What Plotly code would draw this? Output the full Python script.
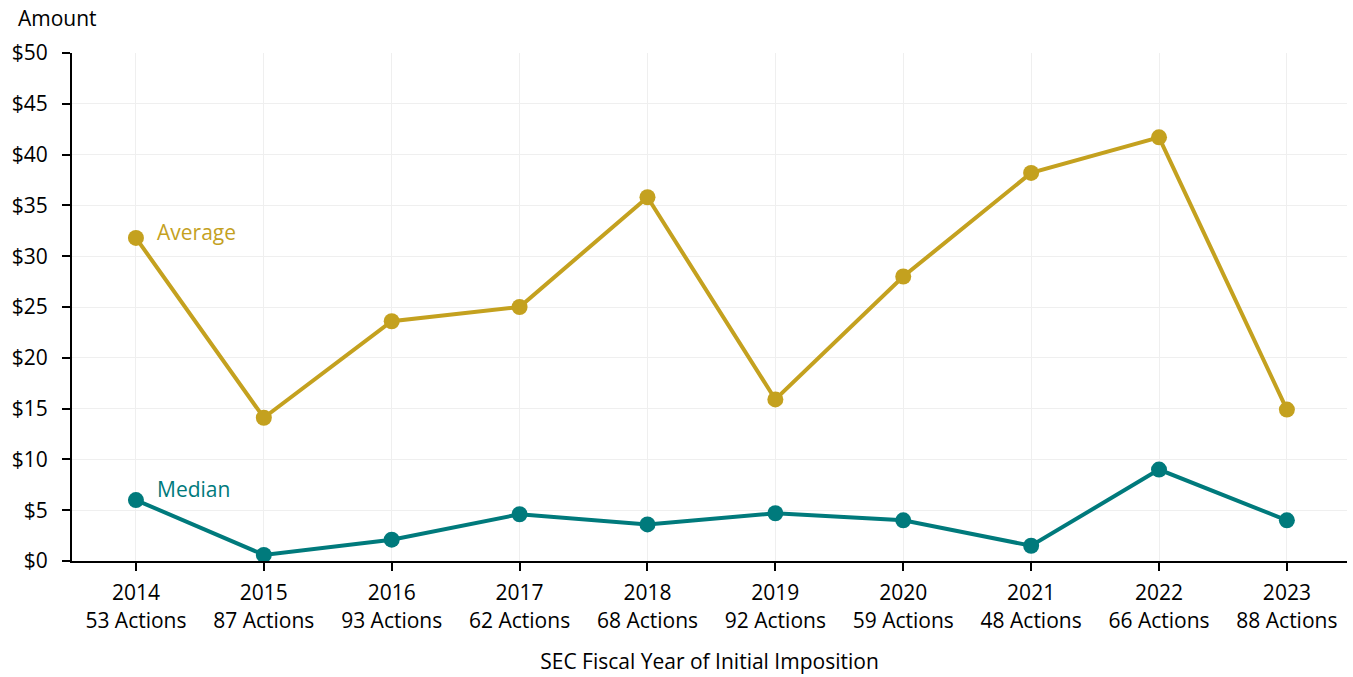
import plotly.graph_objects as go

years = ["2014", "2015", "2016", "2017", "2018", "2019", "2020", "2021", "2022", "2023"]
actions = [53, 87, 93, 62, 68, 92, 59, 48, 66, 88]
average = [31.8, 14.1, 23.6, 25.0, 35.8, 15.9, 28.0, 38.2, 41.7, 14.9]
median = [6.0, 0.6, 2.1, 4.6, 3.6, 4.7, 4.0, 1.5, 9.0, 4.0]
y_ticks = [0, 5, 10, 15, 20, 25, 30, 35, 40, 45, 50]

GOLD = "#C4A11F"
TEAL = "#007A7C"
FONT = "Open Sans"
FS = 21

x_idx = list(range(len(years)))
tick_text = [f"{y}<br>{a} Actions" for y, a in zip(years, actions)]

fig = go.Figure()
fig.add_trace(go.Scatter(x=x_idx, y=average, mode="lines+markers",
                         line=dict(color=GOLD, width=4),
                         marker=dict(color=GOLD, size=16), name="Average"))
fig.add_trace(go.Scatter(x=x_idx, y=median, mode="lines+markers",
                         line=dict(color=TEAL, width=4),
                         marker=dict(color=TEAL, size=16), name="Median"))

fig.add_annotation(x=0, y=average[0], xref="x", yref="y", text="Average",
                   showarrow=False, xanchor="left", xshift=19, yshift=6,
                   font=dict(family=FONT, size=FS, color=GOLD))
fig.add_annotation(x=0, y=median[0], xref="x", yref="y", text="Median",
                   showarrow=False, xanchor="left", xshift=19, yshift=11,
                   font=dict(family=FONT, size=FS, color=TEAL))
fig.add_annotation(x=0, y=1, xref="paper", yref="paper", text="Amount",
                   showarrow=False, xanchor="left", yanchor="middle",
                   xshift=-56, yshift=35,
                   font=dict(family=FONT, size=FS, color="#000"))

fig.update_layout(
    width=1353, height=677,
    margin=dict(l=72, r=6, t=53, b=116, autoexpand=False),
    plot_bgcolor="white", paper_bgcolor="white",
    showlegend=False,
    font=dict(family=FONT, size=FS, color="#000"),
    xaxis=dict(range=[-0.5, 9.47], tickmode="array", tickvals=x_idx, ticktext=tick_text,
               showgrid=True, gridcolor="#EFEFEF", gridwidth=1,
               showline=True, linecolor="#000", linewidth=2,
               ticks="outside", ticklen=8, tickcolor="#000", tickwidth=2,
               ticklabelstandoff=4,
               zeroline=False,
               title=dict(text="SEC Fiscal Year of Initial Imposition", standoff=22,
                          font=dict(family=FONT, size=FS))),
    yaxis=dict(range=[0, 50], tickmode="array", tickvals=y_ticks,
               ticktext=[f"${v}" for v in y_ticks],
               showgrid=True, gridcolor="#EFEFEF", gridwidth=1,
               showline=True, linecolor="#000", linewidth=2,
               ticks="outside", ticklen=8, tickcolor="#000", tickwidth=2,
               ticklabelstandoff=10,
               zeroline=False),
)

fig.write_html("out.html", config={"displayModeBar": False},
               post_script="document.body.style.margin='0';")
